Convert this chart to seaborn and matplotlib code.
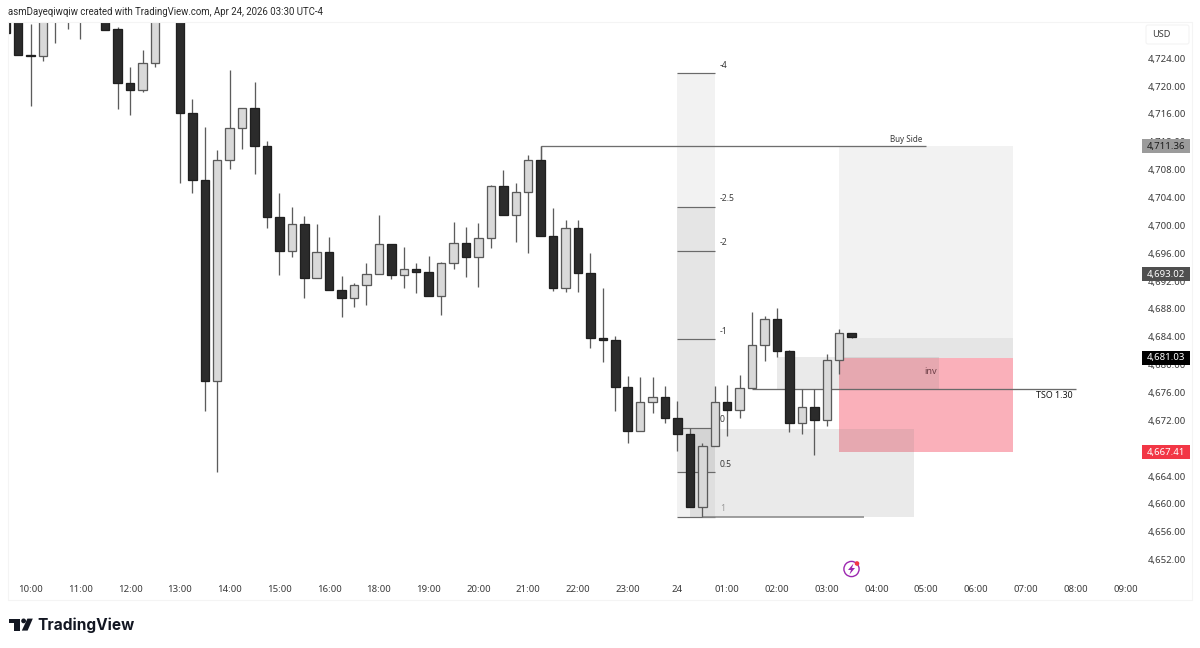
import numpy as np
import pandas as pd
import seaborn as sns
import matplotlib
matplotlib.use("Agg")
import matplotlib.pyplot as plt
from matplotlib.patches import Rectangle, Circle, Polygon, FancyBboxPatch

# 15-minute XAUUSD-style candles, bar -2 is the first partly visible bar
first_bar = -2
opens = [4733, 4733, 4724.54, 4724.29, 4734, 4734, 4734, 4735, 4735, 4728.16, 4720.49, 4719.49, 4723.32, 4736,
         4735, 4716.14, 4706.56, 4677.66, 4709.44, 4714.03, 4716.86, 4711.40, 4701.25, 4696.37, 4700.25, 4692.45,
         4696.14, 4690.68, 4689.53, 4691.40, 4693.07, 4697.29, 4692.88, 4693.74, 4693.35, 4689.82, 4694.56, 4697.48,
         4695.51, 4698.15, 4705.62, 4701.54, 4704.76, 4709.44, 4698.52, 4691.01, 4699.63, 4693.17, 4683.79, 4683.55,
         4676.80, 4670.52, 4674.60, 4675.32, 4672.30, 4670.05, 4659.56, 4668.32, 4674.60, 4673.54, 4676.61, 4682.79,
         4686.52, 4682.01, 4671.63, 4673.88, 4672.10, 4680.72, 4684.55]
highs = [4733, 4733, 4728.92, 4733, 4735, 4735, 4735, 4735, 4735, 4728.54, 4722.71, 4725.19, 4735, 4736,
         4735, 4718.11, 4714.18, 4710.83, 4722.28, 4716.86, 4720.64, 4712.08, 4704.70, 4702.69, 4701.35, 4700.20,
         4698.29, 4692.74, 4691.77, 4694.56, 4701.50, 4697.40, 4696.86, 4694.65, 4695.61, 4694.70, 4700.49, 4699.77,
         4700.35, 4705.80, 4707.96, 4706.05, 4710.11, 4711.36, 4702.46, 4700.78, 4700.78, 4696.00, 4690.97, 4684.17,
         4678.38, 4678.19, 4678.19, 4676.94, 4674.74, 4670.87, 4668.71, 4676.98, 4677.08, 4678.56, 4687.52, 4686.99,
         4688.10, 4682.10, 4676.47, 4676.47, 4681.49, 4685.08, 4684.60]
lows = [4727.63, 4724.52, 4717.19, 4723.61, 4726.24, 4728.21, 4726.81, 4730, 4728.06, 4716.67, 4715.86, 4719.20, 4722.79, 4731,
        4706.14, 4704.70, 4673.35, 4664.55, 4708.06, 4710.97, 4707.43, 4699.59, 4692.92, 4695.51, 4689.53, 4692.38,
        4690.73, 4686.81, 4688.33, 4688.62, 4693.00, 4692.26, 4690.97, 4690.25, 4689.82, 4687.14, 4693.78, 4692.55,
        4691.20, 4696.71, 4701.43, 4697.58, 4696.04, 4698.52, 4690.63, 4690.48, 4690.39, 4682.35, 4680.34, 4673.39,
        4668.80, 4670.41, 4673.02, 4671.67, 4667.65, 4659.56, 4658.18, 4668.32, 4669.80, 4672.35, 4676.61, 4680.57,
        4681.06, 4670.29, 4670.00, 4667.08, 4671.20, 4678.66, 4683.80]
closes = [4727.63, 4724.52, 4724.33, 4733, 4730.5, 4730.5, 4730.5, 4731, 4728.06, 4720.49, 4719.49, 4723.32, 4733, 4733,
          4716.14, 4706.56, 4677.66, 4709.44, 4714.03, 4716.86, 4711.40, 4701.25, 4696.37, 4700.25, 4692.45, 4696.14,
          4690.73, 4689.53, 4691.40, 4693.07, 4697.29, 4692.88, 4693.74, 4693.35, 4689.82, 4694.56, 4697.48, 4695.51,
          4698.15, 4705.62, 4701.54, 4704.76, 4709.44, 4698.52, 4691.01, 4699.63, 4693.17, 4683.79, 4683.55, 4676.80,
          4670.52, 4674.60, 4675.32, 4672.30, 4670.05, 4659.56, 4668.32, 4674.60, 4673.54, 4676.61, 4682.79, 4686.52,
          4682.01, 4671.63, 4673.88, 4672.10, 4680.72, 4684.55, 4683.93]

# Time axis: an hour is four bars, and the session break skips 17:00
hour_bars = [0, 4, 8, 12, 16, 20, 24, 28, 32, 36, 40, 44, 48, 52, 56, 60, 64, 68, 72, 76, 80, 84, 88]
hour_labels = ["10:00", "11:00", "12:00", "13:00", "14:00", "15:00", "16:00", "18:00", "19:00", "20:00",
               "21:00", "22:00", "23:00", "24", "01:00", "02:00", "03:00", "04:00", "05:00", "06:00",
               "07:00", "08:00", "09:00"]
price_ticks = list(range(4652, 4725, 4))

# Fibonacci levels of the anchored retracement
fib_labels = ["-4", "-2.5", "-2", "-1", "0", "0.5", "1"]
fib_prices = [4721.82, 4702.69, 4696.33, 4683.65, 4670.96, 4664.55, 4658.18]
fib_alpha = [0.10, 0.20, 0.20, 0.20, 0.20, 0.10]

buy_side = 4711.36
last_close = 4681.03
grey_level = 4693.02
sell_level = 4667.41
tso_level = 4676.51
band_top = 4683.85
upper_box_top = 4681.10
swing_low = 4658.18
lower_box_top = 4670.70

DARK = "#2b2b2b"
LIGHT = "#d9d9d9"
INK = "#3a3a3a"
GREY = "#808080"
FONT = ["Noto Sans", "DejaVu Sans"]

sns.set_theme(style="white")
plt.rcParams["font.family"] = FONT

frame = pd.DataFrame({"open": opens, "high": highs, "low": lows, "close": closes})
frame["bar"] = np.arange(len(frame)) + first_bar
frame["body_low"] = frame[["open", "close"]].min(axis=1)
frame["body"] = (frame["open"] - frame["close"]).abs()
frame["down"] = frame["close"] < frame["open"]

W, H = 1200, 648
fig = plt.figure(figsize=(W / 100, H / 100), dpi=100, facecolor="white")
ax = fig.add_axes([8 / W, (H - 578) / H, (1143 - 8) / W, (578 - 22) / H], facecolor="none")
px = 0.72  # points per pixel at this resolution

# Candle wicks under the bodies
ax.vlines(frame["bar"], frame["low"], frame["high"], color="#5c5c5c", linewidth=1.3 * px, zorder=3)

# Candle bodies, one barplot per direction
for is_down, fill, edge in [(True, DARK, "#1f1f1f"), (False, LIGHT, "#5a5a5a")]:
    part = frame[frame["down"] == is_down]
    sns.barplot(data=part, x="bar", y="body", bottom=part["body_low"].to_numpy(), native_scale=True,
                width=0.68, color=fill, saturation=1, edgecolor=edge, linewidth=1.3 * px,
                errorbar=None, ax=ax, zorder=4)


def box(x0, x1, y0, y1, color, alpha=1.0, z=1):
    ax.add_patch(Rectangle((x0, y0), x1 - x0, y1 - y0, facecolor=color, edgecolor="none", alpha=alpha, zorder=z))


# Shaded trade boxes on the right of the session
box(65, 79, sell_level, last_close, "#fab0ba")
box(65, 79, last_close, buy_side, GREY, 0.10)
box(65, 79, last_close, band_top, GREY, 0.11)
box(60, 73, tso_level, upper_box_top, GREY, 0.16, z=1.5)
box(53, 71, swing_low, lower_box_top, GREY, 0.16, z=1.5)

# Fibonacci column, its level lines and labels
for k in range(len(fib_alpha)):
    box(52, 55, fib_prices[k + 1], fib_prices[k], GREY, fib_alpha[k])
for k, (name, level) in enumerate(zip(fib_labels, fib_prices)):
    ax.hlines(level, 52, 55, color="#6a6a6a", linewidth=1.2 * px, zorder=2)
    ax.annotate(name, (55, level), xytext=(3.6, 5.8), textcoords="offset points",
                fontsize=6.2, va="center", ha="left", color="#9a9a9a" if name == "1" else INK, zorder=6)

# Horizontal markups
ax.hlines(buy_side, 41, 72, color="#6e6e6e", linewidth=1.3 * px, zorder=2)
ax.vlines(41, 4709.44, buy_side, color="#5c5c5c", linewidth=1.3 * px, zorder=2)
ax.hlines(tso_level, 58, 84, color="#6a6a6a", linewidth=1.3 * px, zorder=2)
ax.hlines(swing_low, 54, 67, color="#8a8a8a", linewidth=1.6 * px, zorder=2)
ax.annotate("Buy Side", (72, buy_side), xytext=(-2.8, 5), textcoords="offset points",
            fontsize=5.8, ha="right", va="center", color=INK, zorder=6)
ax.annotate("TSO 1.30", (84, tso_level), xytext=(-2.4, -5), textcoords="offset points",
            fontsize=6.4, ha="right", va="center", color="#141414", zorder=6)
ax.annotate("inv", (71.85, tso_level), xytext=(0, 12.6), textcoords="offset points",
            fontsize=6.6, ha="left", va="center", color="#6d3f47", zorder=6)

ax.set_xlim((8 - 30.6) / 12.44, (1143 - 30.6) / 12.44)
ax.set_ylim(4649.37, 4729.21)
ax.set_xlabel("")
ax.set_ylabel("")
ax.yaxis.tick_right()
ax.set_yticks(price_ticks)
ax.set_yticklabels([f"{v:,.2f}" for v in price_ticks], fontsize=6.9, color=INK)
ax.set_xticks(hour_bars)
ax.set_xticklabels(hour_labels, fontsize=6.9, color=INK)
for lab in ax.get_xticklabels():
    if lab.get_text() == "24":
        lab.set_fontweight("bold")
ax.tick_params(axis="both", length=0)
ax.tick_params(axis="y", pad=3.4)
ax.tick_params(axis="x", pad=5.2)
sns.despine(ax=ax, left=True, right=True, top=True, bottom=True)

flags = [(buy_side, "#9b9b9b", "#1c1c1c"), (grey_level, "#4f4f4f", "white"),
         (last_close, "#000000", "white"), (sell_level, "#f23645", "white")]

# Page furniture in pixel coordinates
page = fig.add_axes([0, 0, 1, 1], facecolor="none", zorder=10)
page.set_xlim(0, W)
page.set_ylim(H, 0)
page.axis("off")

for level, fill, ink in flags:
    y_px = H - ax.transData.transform((0, level))[1]
    page.add_patch(Rectangle((1142, y_px - 7), 47.5, 14, facecolor=fill, edgecolor="none"))
    page.text(1166, y_px, f"{level:,.2f}", fontsize=6.9, color=ink, ha="center", va="center")

for xs, ys in [((8, 1192), (22, 22)), ((8, 1192), (600, 600)), ((8, 8), (22, 600)), ((1192, 1192), (22, 600))]:
    page.plot(xs, ys, color="#f4f4f4", linewidth=0.8)

page.add_patch(FancyBboxPatch((1146, 25), 43, 19, boxstyle="round,pad=0,rounding_size=2",
                              facecolor="white", edgecolor="#f2f2f2", linewidth=0.7))
page.text(1152, 34.7, "USD", fontsize=6.6, color=INK, va="center", ha="left")

page.text(7.5, 11.8, "asmDayeqiwqiw created with TradingView.com, Apr 24, 2026 03:30 UTC-4",
          fontsize=6.95, family=["Roboto", "DejaVu Sans"], color="#2a2a2a", va="center", ha="left")

# TradingView mark and wordmark
logo = "#131722"
page.add_patch(Polygon([(9.3, 618.6), (20, 618.6), (20, 630.6), (14, 630.6), (14, 623.4), (9.3, 623.4)],
                       facecolor=logo, edgecolor="none"))
page.add_patch(Circle((23.6, 620.9), 2.4, facecolor=logo, edgecolor="none"))
page.add_patch(Polygon([(27.4, 618.6), (32.8, 618.6), (27.6, 630.6), (21.8, 630.6)],
                       facecolor=logo, edgecolor="none"))
page.text(37.5, 625, "TradingView", fontsize=11.1, fontweight="bold", family=["Inter", "DejaVu Sans"],
          color=logo, va="center", ha="left")

# Publishing badge near the time axis
page.add_patch(Circle((851.5, 569), 7.6, facecolor="white", edgecolor="#9c27b0", linewidth=1.0))
page.add_patch(Polygon([(853.5, 563.5), (848, 570), (851, 570), (849.5, 574.5), (855, 568), (852, 568)],
                       facecolor="#9c27b0", edgecolor="none"))
page.add_patch(Circle((857, 563.5), 2.3, facecolor="#f23645", edgecolor="none"))

fig.savefig("out.png", dpi=100, facecolor="white")
